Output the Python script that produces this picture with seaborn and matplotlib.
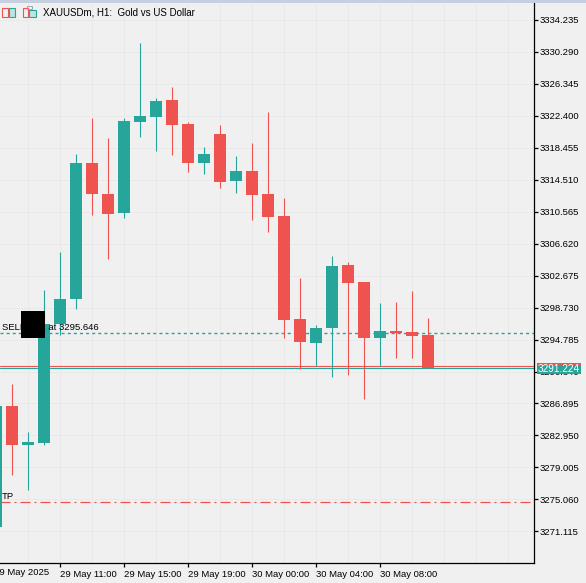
import matplotlib
matplotlib.use("Agg")
import matplotlib.pyplot as plt
import matplotlib.transforms as mtransforms
from matplotlib.patches import Rectangle
import seaborn as sns
import numpy as np

# XAUUSDm H1 candles, 29 May 07:00 .. 30 May 10:00
opens = [3271.69, 3286.61, 3281.72, 3282.05, 3296.72, 3299.80, 3316.57, 3312.75,
         3310.41, 3321.62, 3322.24, 3324.34, 3321.38, 3316.57, 3320.14, 3314.35,
         3315.58, 3312.75, 3310.04, 3297.34, 3294.38, 3296.23, 3303.99, 3301.90,
         3295.00, 3295.86, 3295.73, 3295.37]
highs = [3286.86, 3289.32, 3283.41, 3300.91, 3305.60, 3317.68, 3322.12, 3319.65,
         3322.12, 3331.36, 3324.58, 3325.94, 3321.63, 3318.54, 3321.25, 3317.43,
         3319.04, 3322.86, 3312.25, 3302.39, 3296.60, 3305.10, 3304.36, 3301.90,
         3299.31, 3299.43, 3300.79, 3297.46]
lows = [3271.45, 3278.11, 3276.26, 3281.80, 3295.37, 3298.57, 3310.16, 3304.73,
        3309.79, 3319.77, 3318.05, 3317.56, 3315.46, 3315.21, 3313.49, 3312.87,
        3309.54, 3308.06, 3295.00, 3291.17, 3291.54, 3290.19, 3290.43, 3287.47,
        3291.54, 3292.53, 3292.53, 3291.22]
closes = [3286.61, 3281.72, 3282.17, 3296.72, 3299.80, 3316.57, 3312.75, 3310.28,
          3321.75, 3322.36, 3324.21, 3321.25, 3316.57, 3317.68, 3314.23, 3315.58,
          3312.62, 3309.91, 3297.21, 3294.50, 3296.23, 3303.87, 3301.78, 3295.00,
          3295.86, 3295.61, 3295.24, 3291.22]

tick_pos = [4, 8, 12, 16, 20, 24]
tick_labels = ["29 May 11:00", "29 May 15:00", "29 May 19:00",
               "30 May 00:00", "30 May 04:00", "30 May 08:00"]
first_label = "29 May 2025"
price_ticks = [3271.115, 3275.060, 3279.005, 3282.950, 3286.895, 3290.840,
               3294.785, 3298.730, 3302.675, 3306.620, 3310.565, 3314.510,
               3318.455, 3322.400, 3326.345, 3330.290, 3334.235]

sell_price = 3295.646
bid_price = 3291.224
ask_price = 3291.50
tp_price = 3274.78

UP = "#26a69a"
DOWN = "#ef5350"
BG = "#f0f0f0"
GRID = "#e9e9e9"
FS = 6.8

sns.set_theme(style="white")
plt.rcParams["font.family"] = ["Liberation Sans", "DejaVu Sans"]

W, H = 586, 583
fig = plt.figure(figsize=(W / 100, H / 100), dpi=100, facecolor=BG)
ax = fig.add_axes([0, 20 / H, 534 / W, 561 / H])
ax.set_facecolor(BG)

x = np.arange(len(opens))
o = np.array(opens)
c = np.array(closes)
cols = [UP if cc >= oo else DOWN for oo, cc in zip(o, c)]

# faint grid: horizontal at price ticks, vertical every 2 bars
for p in price_ticks:
    ax.axhline(p, color=GRID, lw=0.7, zorder=0)
for gx in range(2, 34, 2):
    ax.axvline(gx, color=GRID, lw=0.7, zorder=0)

ax.vlines(x, lows, highs, colors=cols, lw=0.8, zorder=3)
bottoms = np.minimum(o, c)
heights = np.maximum(np.abs(c - o), 0.13)
ax.bar(x, heights, bottom=bottoms, width=0.69, color=cols, linewidth=0, zorder=3)

ax.set_xlim(0.25, 33.625)
ax.set_ylim(3267.22, 3336.42)

# axes / ticks
sns.despine(ax=ax, left=True, top=True, right=False, bottom=False)
for s in ("right", "bottom"):
    ax.spines[s].set_color("black")
    ax.spines[s].set_linewidth(0.9)
ax.yaxis.tick_right()
ax.set_yticks(price_ticks)
ax.set_yticklabels([f"{v:.3f}" for v in price_ticks])
ax.set_xticks(tick_pos)
ax.set_xticklabels(tick_labels)
for lab in ax.get_xticklabels():
    lab.set_ha("left")
ax.tick_params(axis="y", direction="out", length=3, width=0.9, pad=1,
               labelsize=FS, colors="black", right=True, left=False)
ax.tick_params(axis="x", direction="out", length=3, width=0.9, pad=2,
               labelsize=FS, colors="black", bottom=True)

blend = mtransforms.blended_transform_factory(ax.transAxes, ax.transData)

# horizontal levels
ax.axhline(sell_price, color=UP, lw=1.0, ls=(0, (2.2, 2.2)), zorder=2)
ax.axhline(ask_price, color=DOWN, lw=0.8, zorder=2)
ax.axhline(bid_price, color=UP, lw=0.8, zorder=2)
ax.axhline(tp_price, color=DOWN, lw=0.9, ls=(0, (8, 3.2, 1.6, 3.2)), zorder=2)

ax.annotate("SELL 0.01 at 3295.646", xy=(0.004, sell_price), xycoords=blend,
            xytext=(0, 3), textcoords="offset pixels", va="baseline",
            fontsize=FS, color="black", zorder=4)
ax.annotate("TP", xy=(0.004, tp_price), xycoords=blend,
            xytext=(0, 3), textcoords="offset pixels", va="baseline",
            fontsize=FS, color="black", zorder=4)

# black box over the order label
ax.add_patch(Rectangle((21 / 534, 3294.995), 24 / 534, 3.33, transform=blend,
                       facecolor="black", edgecolor="none", zorder=6))

# current price tag on the scale
ax.add_patch(Rectangle((1.0056, 3290.59), 0.0824, 1.11, transform=blend,
                       facecolor=UP, edgecolor="none", clip_on=False, zorder=6))
ax.add_patch(Rectangle((1.0056, 3291.70), 0.0824, 0.25, transform=blend,
                       facecolor=DOWN, edgecolor="none", clip_on=False, zorder=6))
ax.text(1.0056 + 0.0412, 3291.15, f"{bid_price:.3f}", transform=blend,
        ha="center", va="center", color="white", fontsize=7.2, clip_on=False, zorder=7)

# partial first time label at the left edge
fig.text(-6 / W, 1 - 572.7 / H, first_label, ha="left", va="center",
         fontsize=FS, color="black")


def px_rect(x0, y0, w, h, **kw):
    fig.add_artist(Rectangle((x0 / W, 1 - (y0 + h) / H), w / W, h / H,
                             transform=fig.transFigure, **kw))


# top window strip
px_rect(0, 0, W, 2.5, facecolor="#c6cfdf", edgecolor="none")

# toolbar icons
px_rect(1.5, 8, 6, 8.5, facecolor="none", edgecolor=DOWN, lw=0.8)
px_rect(8.5, 8, 6.5, 8.5, facecolor="#bfe3df", edgecolor=UP, lw=0.8)
px_rect(23, 8, 5, 8.5, facecolor="none", edgecolor=DOWN, lw=0.8)
px_rect(29, 10, 6.5, 6.5, facecolor="#bfe3df", edgecolor=UP, lw=0.8)
px_rect(27, 6, 5, 3, facecolor="none", edgecolor="#9aa4b8", lw=0.7)

fig.text(43 / W, 1 - 12.5 / H, "XAUUSDm, H1:  Gold vs US Dollar",
         ha="left", va="center", fontsize=7, color="black")

fig.savefig("out.png", dpi=100, facecolor=BG)
